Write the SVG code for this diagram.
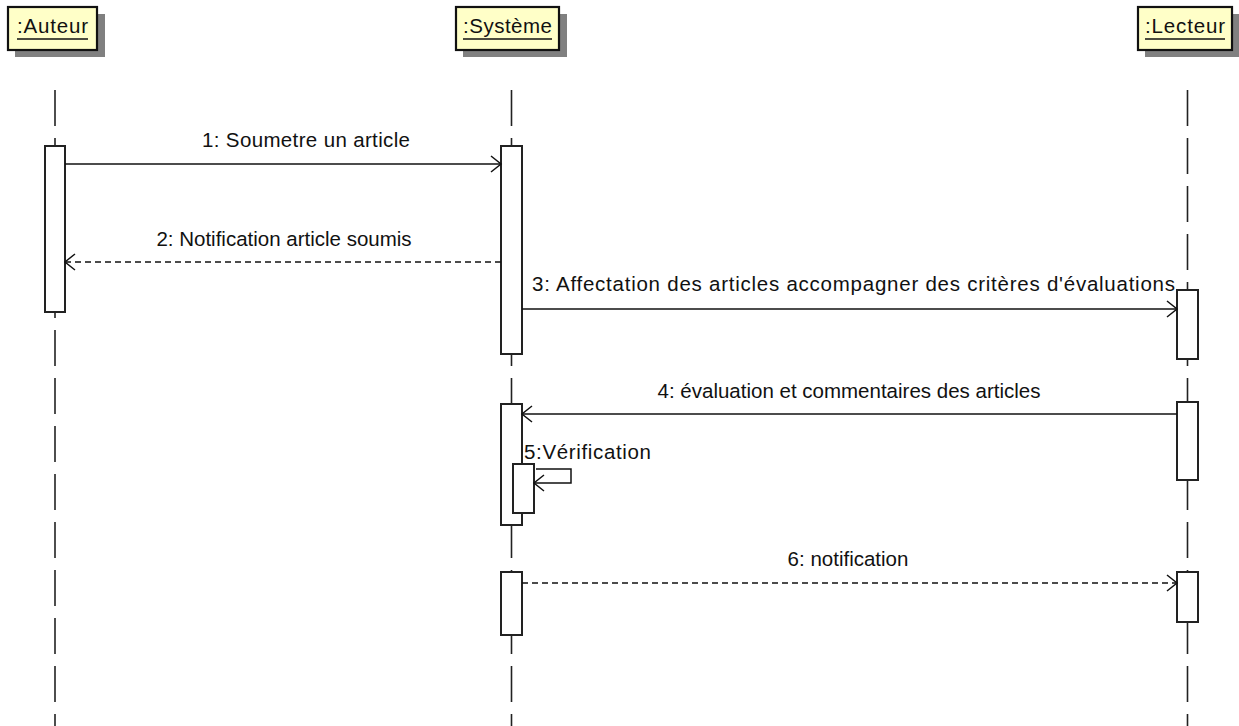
<svg xmlns="http://www.w3.org/2000/svg" width="1239" height="726" viewBox="0 0 1239 726">
  <style>
    .lbl { font-family: "Liberation Sans", Arial, sans-serif; font-size: 20.5px; fill: #111; }
    .obj { fill: #ffffc8; stroke: #111; stroke-width: 2.2; }
    .shadow { fill: #808080; }
    .life { stroke: #222; stroke-width: 1.6; stroke-dasharray: 36 12; fill: none; }
    .act { fill: #fff; stroke: #222; stroke-width: 2; }
    .msg { stroke: #111; stroke-width: 1.5; fill: none; }
    .ret { stroke: #111; stroke-width: 1.5; fill: none; stroke-dasharray: 6 4; }
    .uline { stroke: #111; stroke-width: 1.5; }
  </style>
  <defs>
    <marker id="open" viewBox="-12 -10 14 20" refX="0" refY="0" markerWidth="14" markerHeight="20" markerUnits="userSpaceOnUse" orient="auto">
      <path d="M-10,-8 L0,0 L-10,8" fill="none" stroke="#111" stroke-width="1.5"/>
    </marker>
  </defs>
  <rect width="1239" height="726" fill="#fff"/>

  <!-- lifelines -->
  <g id="lifelines">
    <line class="life" x1="55" y1="90" x2="55" y2="726"/>
    <line class="life" x1="511.5" y1="90" x2="511.5" y2="726"/>
    <line class="life" x1="1187.5" y1="90" x2="1187.5" y2="726"/>
  </g>

  <!-- participants -->
  <g id="auteur">
    <rect class="shadow" x="15" y="14" width="90" height="43"/>
    <rect class="obj" x="8" y="7" width="89" height="43"/>
    <text class="lbl" x="17" y="33" textLength="71" lengthAdjust="spacing">:Auteur</text>
    <line class="uline" x1="17" y1="39" x2="88" y2="39"/>
  </g>
  <g id="systeme">
    <rect class="shadow" x="463" y="14" width="104" height="43"/>
    <rect class="obj" x="456" y="7" width="103" height="43"/>
    <text class="lbl" x="463" y="33" textLength="89" lengthAdjust="spacing">:Système</text>
    <line class="uline" x1="463" y1="39" x2="552" y2="39"/>
  </g>
  <g id="lecteur">
    <rect class="shadow" x="1145" y="14" width="95" height="43"/>
    <rect class="obj" x="1138" y="7" width="94" height="43"/>
    <text class="lbl" x="1145" y="33" textLength="80" lengthAdjust="spacing">:Lecteur</text>
    <line class="uline" x1="1145" y1="39" x2="1225" y2="39"/>
  </g>

  <!-- activation bars -->
  <g id="activations">
    <rect class="act" x="45" y="146" width="20" height="166"/>
    <rect class="act" x="501" y="146" width="21" height="208"/>
    <rect class="act" x="1177" y="290" width="21" height="69"/>
    <rect class="act" x="501" y="404" width="21" height="121"/>
    <rect class="act" x="513" y="464" width="21" height="49"/>
    <rect class="act" x="1177" y="402" width="21" height="78"/>
    <rect class="act" x="501" y="572" width="21" height="63"/>
    <rect class="act" x="1177" y="572" width="21" height="50"/>
  </g>

  <!-- messages -->
  <g id="connectors">
    <line class="msg" x1="65" y1="164" x2="501" y2="164" marker-end="url(#open)"/>
    <line class="ret" x1="501" y1="262" x2="65" y2="262" marker-end="url(#open)"/>
    <line class="msg" x1="522" y1="309" x2="1177" y2="309" marker-end="url(#open)"/>
    <line class="msg" x1="1177" y1="414" x2="522" y2="414" marker-end="url(#open)"/>
    <polyline class="msg" points="536,469 571,469 571,483 534,483" marker-end="url(#open)"/>
    <line class="ret" x1="522" y1="583" x2="1177" y2="583" marker-end="url(#open)"/>
  </g>

  <!-- message labels -->
  <g id="labels">
    <text class="lbl" x="202" y="147" textLength="208" lengthAdjust="spacing">1: Soumetre un article</text>
    <text class="lbl" x="284" y="246" text-anchor="middle">2: Notification article soumis</text>
    <text class="lbl" x="532" y="291" textLength="643" lengthAdjust="spacing">3: Affectation des articles accompagner des critères d'évaluations</text>
    <text class="lbl" x="849" y="398" text-anchor="middle">4: évaluation et commentaires des articles</text>
    <text class="lbl" x="524" y="459" textLength="127" lengthAdjust="spacing">5:Vérification</text>
    <text class="lbl" x="848" y="566" text-anchor="middle">6: notification</text>
  </g>
</svg>
